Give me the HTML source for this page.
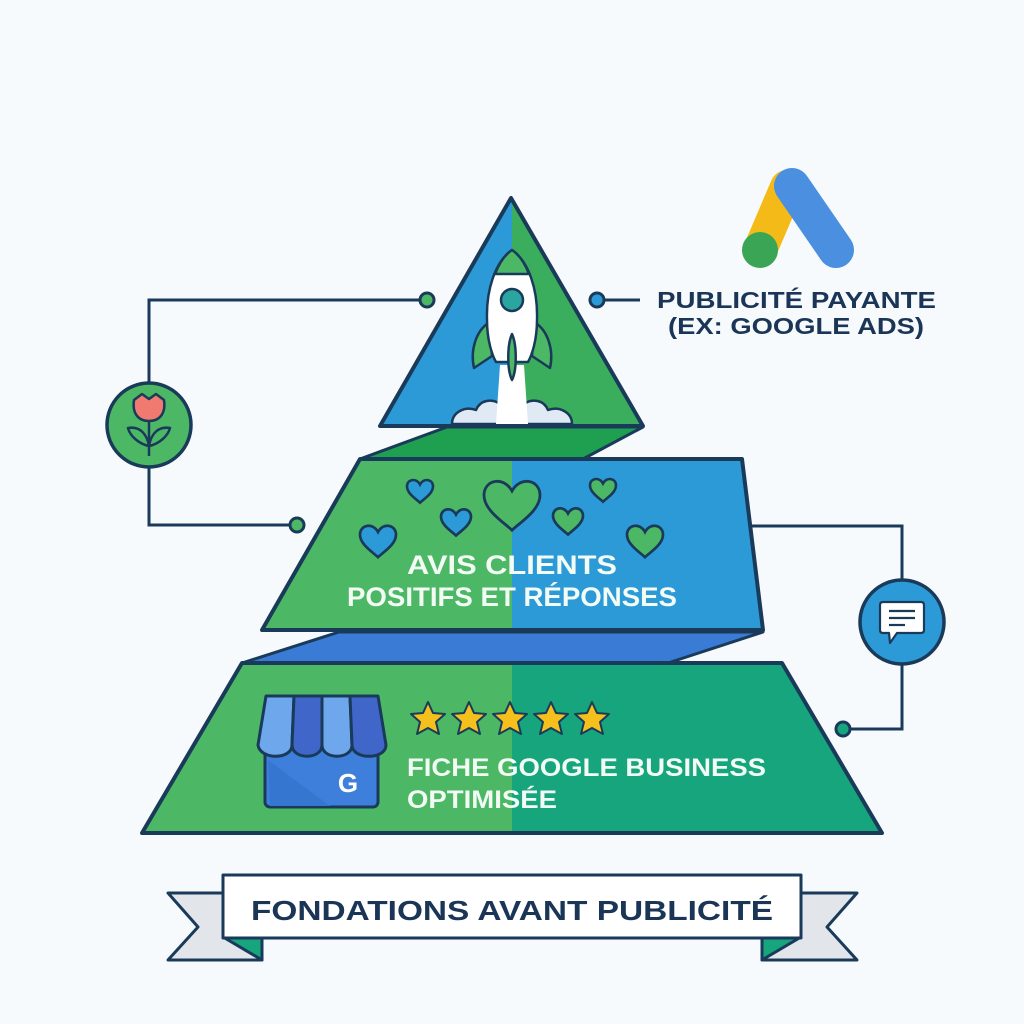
<!DOCTYPE html>
<html><head><meta charset="utf-8"><style>
html,body{margin:0;padding:0;background:#f6fafc;}
svg{display:block}
text{font-family:"Liberation Sans",sans-serif;font-weight:bold}
</style></head><body>
<svg width="1024" height="1024" viewBox="0 0 1024 1024" xmlns="http://www.w3.org/2000/svg">
<defs>
<clipPath id="cl"><rect x="0" y="0" width="512" height="1024"/></clipPath>
<clipPath id="cr"><rect x="512" y="0" width="512" height="1024"/></clipPath>
<path id="hrt" d="M0,0.9 C-0.25,0.65 -1,0.2 -1,-0.35 C-1,-0.9 -0.3,-1.05 0,-0.5 C0.3,-1.05 1,-0.9 1,-0.35 C1,0.2 0.25,0.65 0,0.9Z"/>
</defs>
<rect width="1024" height="1024" fill="#f6fafc"/>

<g stroke="#1a3a5a" stroke-width="3" fill="none">
<polyline points="420,300 149,300 149,525 290,525"/>
<line x1="604" y1="300" x2="640" y2="300"/>
<polyline points="734,526 902,526 902,729 850,729"/>
</g>
<g stroke="#1a3a5a" stroke-width="3">
<circle cx="427" cy="300" r="7" fill="#4cb865"/>
<circle cx="297" cy="525" r="7" fill="#4cb865"/>
<circle cx="597" cy="300" r="7" fill="#2d9ad8"/>
<circle cx="727" cy="526" r="7" fill="#2d9ad8"/>
<circle cx="843" cy="729" r="7" fill="#17a57e"/>
</g>

<polygon points="447,427 643,427 583,459 360,459" fill="#1fa050" stroke="#1a3a5a" stroke-width="3" stroke-linejoin="round"/>
<polygon points="339,632 763,632 668,663 242,663" fill="#3a7bd5" stroke="#1a3a5a" stroke-width="3" stroke-linejoin="round"/>

<polygon points="511,198 380,426 643,426" fill="#2d9ad8" clip-path="url(#cl)"/>
<polygon points="511,198 380,426 643,426" fill="#3bae5e" clip-path="url(#cr)"/>
<polygon points="511,198 380,426 643,426" fill="none" stroke="#1a3a5a" stroke-width="4" stroke-linejoin="round"/>

<polygon points="360,459 742,459 763,630 262,630" fill="#4cb865" clip-path="url(#cl)"/>
<polygon points="360,459 742,459 763,630 262,630" fill="#2d9ad8" clip-path="url(#cr)"/>
<polygon points="360,459 742,459 763,630 262,630" fill="none" stroke="#1a3a5a" stroke-width="4" stroke-linejoin="round"/>

<polygon points="242,663 782,663 882,833 142,833" fill="#4cb865" clip-path="url(#cl)"/>
<polygon points="242,663 782,663 882,833 142,833" fill="#17a57e" clip-path="url(#cr)"/>
<polygon points="242,663 782,663 882,833 142,833" fill="none" stroke="#1a3a5a" stroke-width="4" stroke-linejoin="round"/>

<g stroke="#1a3a5a" stroke-width="2.5" stroke-linejoin="round">
<path d="M452,424 C452,412 465,406 476,410 C480,400 492,398 500,404 L524,404 C532,398 544,400 548,410 C559,406 572,412 572,424 Z" fill="#dfeaf5"/>
<polygon points="500,365 524,365 528,424 496,424" fill="#ffffff" stroke="none"/>
<path d="M490,322 C476,330 470,350 474,368 L492,356 Z" fill="#4cb865"/>
<path d="M534,322 C548,330 554,350 550,368 L532,356 Z" fill="#4cb865"/>
<path d="M512,250 C495,262 486,290 487,320 C487,340 492,355 496,362 L528,362 C532,355 537,340 537,320 C538,290 529,262 512,250 Z" fill="#ffffff"/>
<path d="M512,250 C503,256 498,266 495,274 L529,274 C526,266 521,256 512,250 Z" fill="#4cb865"/>
<circle cx="512" cy="300" r="11" fill="#2aa6a0"/>
<path d="M512,334 C507,345 507,370 512,380 C517,370 517,345 512,334 Z" fill="#4cb865"/>
</g>

<g stroke="#1a3a5a">
<use href="#hrt" transform="translate(420,491) scale(13)" fill="#2d9ad8" style="stroke-width:0.2"/>
<use href="#hrt" transform="translate(378,541) scale(18)" fill="#2d9ad8" style="stroke-width:0.15"/>
<use href="#hrt" transform="translate(456,522) scale(15)" fill="#2d9ad8" style="stroke-width:0.18"/>
<use href="#hrt" transform="translate(512,505) scale(28)" fill="#4cb865" style="stroke-width:0.1"/>
<use href="#hrt" transform="translate(568,521) scale(15)" fill="#4cb865" style="stroke-width:0.18"/>
<use href="#hrt" transform="translate(603,490) scale(13)" fill="#4cb865" style="stroke-width:0.2"/>
<use href="#hrt" transform="translate(645,541) scale(18)" fill="#4cb865" style="stroke-width:0.15"/>
</g>

<text x="512" y="574" fill="#f2fbf4" font-size="27" text-anchor="middle" textLength="210" lengthAdjust="spacingAndGlyphs">AVIS CLIENTS</text>
<text x="512" y="606" fill="#f2fbf4" font-size="27" text-anchor="middle" textLength="330" lengthAdjust="spacingAndGlyphs">POSITIFS ET RÉPONSES</text>

<g stroke="#1a3a5a" stroke-width="3" stroke-linejoin="round">
<rect x="265" y="735" width="113" height="72" rx="5" fill="#3f7fdc"/>
<polygon points="268,760 330,806 270,806" fill="#3577d0" stroke="none"/>
<path d="M266,696 L294,696 L292,745 C292,760 260,760 258,745 Z" fill="#6fa7ec"/>
<path d="M294,696 L322,696 L322,745 C322,760 292,760 292,745 Z" fill="#3f66c8"/>
<path d="M322,696 L350,696 L352,745 C352,760 322,760 322,745 Z" fill="#6fa7ec"/>
<path d="M350,696 L378,696 L386,745 C386,760 352,760 352,745 Z" fill="#3f66c8"/>
</g>
<text x="348" y="792" fill="#ffffff" font-size="26" text-anchor="middle">G</text>

<g fill="#f5c01c" stroke="#1a3a5a" stroke-width="2" stroke-linejoin="round">
<polygon id="st" points="0,-17 5,-6 17,-5 8,3 11,15 0,9 -11,15 -8,3 -17,-5 -5,-6" transform="translate(428,719)"/>
<use href="#st" transform="translate(41,0)"/>
<use href="#st" transform="translate(82,0)"/>
<use href="#st" transform="translate(123,0)"/>
<use href="#st" transform="translate(164,0)"/>
</g>

<text x="407" y="776" fill="#f2fbf4" font-size="25" textLength="359" lengthAdjust="spacingAndGlyphs">FICHE GOOGLE BUSINESS</text>
<text x="407" y="808" fill="#f2fbf4" font-size="25" textLength="150" lengthAdjust="spacingAndGlyphs">OPTIMISÉE</text>

<circle cx="149" cy="425" r="42" fill="#4cb865" stroke="#1a3a5a" stroke-width="3.5"/>
<g stroke="#1a3a5a" stroke-width="2.5" stroke-linejoin="round">
<line x1="149" y1="418" x2="149" y2="456" />
<path d="M149,446 C139,444 130,436 128,428 C140,426 147,434 149,446Z" fill="#4cb865"/>
<path d="M149,446 C159,444 168,436 170,428 C158,426 151,434 149,446Z" fill="#4cb865"/>
<path d="M134,400 L142,394 L149,399 L156,394 L164,400 C166,413 160,421 149,421 C138,421 132,413 134,400Z" fill="#f07a70"/>
</g>

<circle cx="902" cy="622" r="42" fill="#2d9ad8" stroke="#1a3a5a" stroke-width="3.5"/>
<g stroke="#1a3a5a" stroke-width="2.2" stroke-linejoin="round">
<path d="M883,602 L921,602 Q924,602 924,605 L924,630 Q924,633 921,633 L897,633 L890,643 L889,633 L883,633 Q880,633 880,630 L880,605 Q880,602 883,602Z" fill="#ffffff"/>
<line x1="889" y1="611" x2="915" y2="611"/>
<line x1="889" y1="618" x2="915" y2="618"/>
<line x1="889" y1="625" x2="905" y2="625"/>
</g>

<g stroke-linecap="round">
<line x1="787" y1="187" x2="761" y2="248" stroke="#f4bb18" stroke-width="34"/>
<line x1="792" y1="186" x2="836" y2="250" stroke="#4a8fe0" stroke-width="36"/>
<circle cx="760" cy="250" r="18" fill="#3aa655"/>
</g>

<text x="657" y="308" fill="#1b3557" font-size="23" textLength="279" lengthAdjust="spacingAndGlyphs">PUBLICITÉ PAYANTE</text>
<text x="668" y="334" fill="#1b3557" font-size="23" textLength="256" lengthAdjust="spacingAndGlyphs">(EX: GOOGLE ADS)</text>

<g stroke="#1a3a5a" stroke-width="3" stroke-linejoin="round">
<polygon points="168,893 223,893 262,960 168,960 198,927" fill="#e2e6ea"/>
<polygon points="857,893 801,893 762,960 857,960 827,927" fill="#e2e6ea"/>
<polygon points="223,937 262,937 262,960" fill="#17a57e"/>
<polygon points="801,937 762,937 762,960" fill="#17a57e"/>
<rect x="223" y="875" width="578" height="63" fill="#ffffff"/>
</g>
<text x="512" y="920" fill="#1b3557" font-size="28" text-anchor="middle" textLength="522" lengthAdjust="spacingAndGlyphs">FONDATIONS AVANT PUBLICITÉ</text>
</svg>
</body></html>
